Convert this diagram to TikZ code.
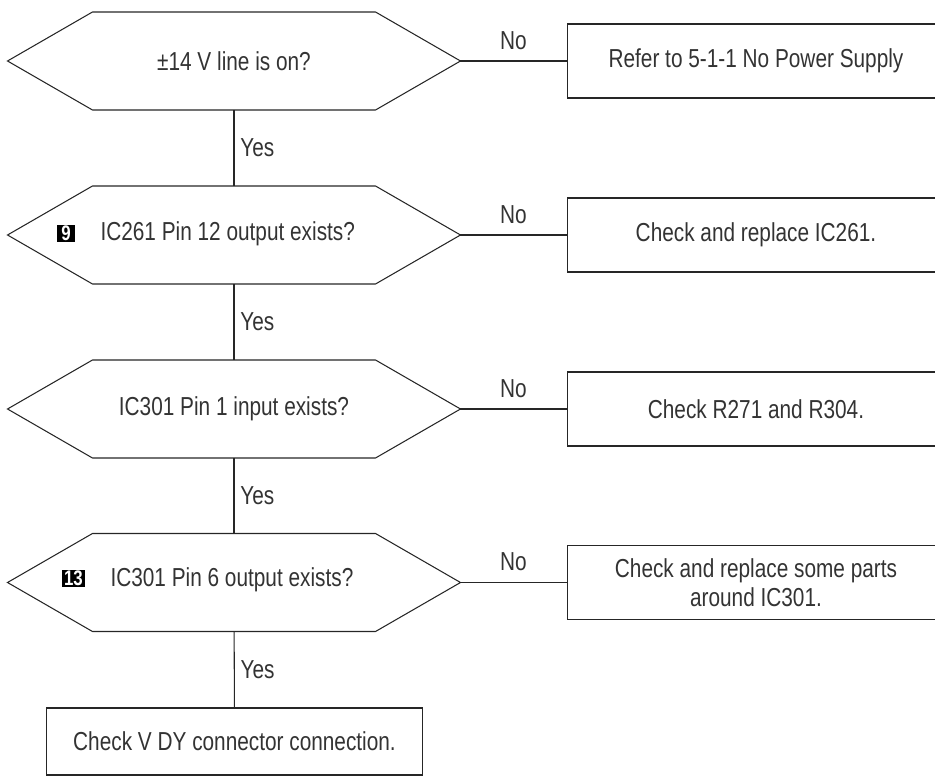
\documentclass[tikz,border=0pt]{standalone}
\usepackage{fontspec}
\setmainfont{Liberation Sans}[FakeStretch=0.8]
\usepackage{xcolor}
\usepackage{tikz}
\usetikzlibrary{positioning}

\newcommand{\hexout}[1]{%
  \draw (#1.north west) -- (#1.north east) -- ([xshift=1.7cm]#1.east) coordinate (#1r)
    -- (#1.south east) -- (#1.south west) -- ([xshift=-1.7cm]#1.west) -- cycle;}

\begin{document}
\begin{tikzpicture}[x=0.02cm,y=-0.02cm,line width=0.6pt,draw=black!85,text=black!80,
  font=\fontsize{14.8}{16.5}\selectfont,
  query/.style={minimum width=5.64cm,minimum height=1.94cm,inner sep=0pt},
  reply/.style={draw,minimum width=7.56cm,minimum height=1.48cm,align=center},
  badge/.style={fill=black,text=white,inner sep=0pt,minimum height=0.35cm,
    font=\fontsize{12}{12}\selectfont\bfseries}]
\path[use as bounding box,clip] (0,0) rectangle (935,776);
\node[query] (q1) at (234,61) {±14 V line is on?};
\node[query] (q2) at (234,235) {};
\node[badge,minimum width=0.37cm] (b9) at (66,233.5) {9};
\node[anchor=west,inner sep=0pt] (t2) at (100,234) {IC261 Pin 12 output exists?};
\node[query] (q3) at (234,409) {IC301 Pin 1 input exists?};
\node[query] (q4) at (234,582.5) {};
\node[badge,minimum width=0.47cm] (b13) at (73.5,578.5) {13};
\node[anchor=west,inner sep=0pt] (t4) at (110,580) {IC301 Pin 6 output exists?};
\hexout{q1}
\hexout{q2}
\hexout{q3}
\hexout{q4}
\node[reply] (r1) at (756,61) {Refer to 5-1-1 No Power Supply};
\node[reply] (r2) at (756,235) {Check and replace IC261.};
\node[reply] (r3) at (756,409) {Check R271 and R304.};
\node[reply] (r4) at (756,582.5) {Check and replace some parts\\around IC301.};
\node[draw,minimum width=7.54cm,minimum height=1.34cm] (fin) at (234.5,741.5)
  {Check V DY connector connection.};
\draw (q1r) -- node[above=3pt] {No} (r1.west);
\draw (q2r) -- node[above=3pt] {No} (r2.west);
\draw (q3r) -- node[above=3pt] {No} (r3.west);
\draw (q4r) -- node[above=3pt] {No} (r4.west);
\draw (q1) -- node[right] {Yes} (q2);
\draw (q2) -- node[right] {Yes} (q3);
\draw (q3) -- node[right] {Yes} (q4);
\draw (q4) -- node[right] {Yes} (fin);
\end{tikzpicture}
\end{document}
